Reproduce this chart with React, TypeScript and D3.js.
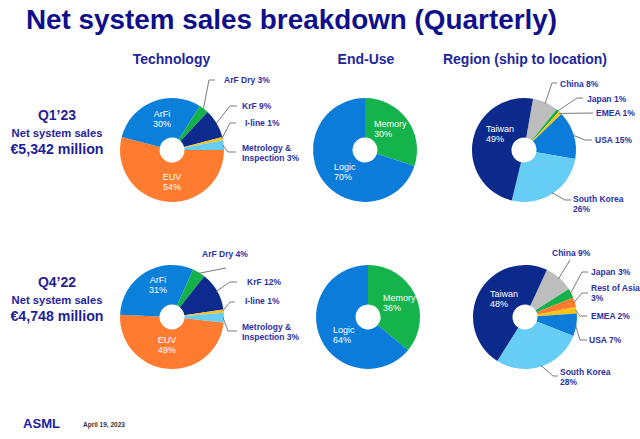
import React from "react";
import * as d3 from "d3";

// ---- data ----
const quarters = ["Q1’23", "Q4’22"];
const salesTotals = ["€5,342 million", "€4,748 million"];

const techCategories = ["EUV", "ArFi", "ArF Dry", "KrF", "I-line", "Metrology & Inspection"];
const techQ123 = [54, 30, 3, 9, 1, 3];
const techQ422 = [49, 31, 4, 12, 1, 3];

const endUseCategories = ["Memory", "Logic"];
const endUseQ123 = [30, 70];
const endUseQ422 = [36, 64];

const regionCategoriesQ123 = ["China", "Japan", "EMEA", "USA", "South Korea", "Taiwan"];
const regionQ123 = [8, 1, 1, 15, 26, 49];
const regionCategoriesQ422 = ["China", "Japan", "Rest of Asia", "EMEA", "USA", "South Korea", "Taiwan"];
const regionQ422 = [9, 3, 3, 2, 7, 28, 48];

// ---- styling ----
const FONT = "'Liberation Sans', Arial, Helvetica, sans-serif";
const NAVY = "#0f0f8c";
const LABEL = "#2b31a6";
const LEADER = "#6b6b6b";

const colorOf: Record<string, string> = {
  EUV: "#ff7b30",
  ArFi: "#0b80da",
  "ArF Dry": "#14b14b",
  KrF: "#0d2a8e",
  "I-line": "#f6c31a",
  "Metrology & Inspection": "#66cdf5",
  Memory: "#14b34b",
  Logic: "#0b7cd9",
  China: "#bdbdbd",
  Japan: "#14b14b",
  "Rest of Asia": "#ff7b30",
  EMEA: "#f6c31a",
  USA: "#0b7cd9",
  "South Korea": "#66cdf5",
  Taiwan: "#0c2a8c",
};

const R = 52;
const HOLE = 12.5;
const deg = Math.PI / 180;

type Inner = { i: number; x: number; y: number; split: number };
type Outer = { i: number; pts: [number, number][]; tx: number; ty: number; split: number };

function lines(cat: string, v: number, split: number) {
  const words = `${cat} ${v}%`.split(" ");
  if (split >= words.length) return [words.join(" ")];
  return [words.slice(0, split).join(" "), words.slice(split).join(" ")];
}

function Donut(props: {
  cx: number;
  cy: number;
  cats: string[];
  values: number[];
  start: number;
  inner: Inner[];
  outer: Outer[];
}) {
  const { cx, cy, cats, values, start, inner, outer } = props;
  const arcs = d3
    .pie<number>()
    .sort(null)
    .value((d) => d)
    .startAngle(start * deg)
    .endAngle(start * deg + 2 * Math.PI)(values);
  const arc = d3.arc<d3.PieArcDatum<number>>().innerRadius(HOLE).outerRadius(R);
  const edge = (i: number) => {
    const a = (arcs[i].startAngle + arcs[i].endAngle) / 2;
    return [cx + (R - 1) * Math.sin(a), cy - (R - 1) * Math.cos(a)] as [number, number];
  };
  const line = d3.line();
  return (
    <g>
      <g transform={`translate(${cx},${cy})`}>
        {arcs.map((a, i) => (
          <path key={i} d={arc(a) || ""} fill={colorOf[cats[i]]} />
        ))}
      </g>
      {outer.map((o, k) => (
        <g key={k}>
          <path d={line([edge(o.i), ...o.pts]) || ""} fill="none" stroke={LEADER} strokeWidth={0.9} />
          {lines(cats[o.i], values[o.i], o.split).map((t, j) => (
            <text key={j} x={o.tx} y={o.ty + j * 9.5} fontSize={8.5} fontWeight="bold" fill={LABEL}>
              {t}
            </text>
          ))}
        </g>
      ))}
      {inner.map((n, k) =>
        lines(cats[n.i], values[n.i], n.split).map((t, j) => (
          <text key={`${k}-${j}`} x={n.x} y={n.y + j * 10} fontSize={9} fill="#ffffff"
            textAnchor={n.split === 1 && cats[n.i].length < 5 ? "middle" : "start"}>
            {t}
          </text>
        ))
      )}
    </g>
  );
}

export default function App() {
  const rowsY = [150, 317];
  return (
    <svg width={640} height={439} style={{ position: "absolute", left: 0, top: 0, background: "#fff" }}
      fontFamily={FONT}>
      <text x={26} y={29} fontSize={27} fontWeight="bold" fill={NAVY} textLength={531}
        lengthAdjust="spacingAndGlyphs">
        Net system sales breakdown (Quarterly)
      </text>
      <g fontSize={14} fontWeight="bold" fill="#1d279d" textAnchor="middle">
        <text x={171.5} y={64}>Technology</text>
        <text x={366} y={64}>End-Use</text>
        <text x={525} y={64}>Region (ship to location)</text>
      </g>

      {quarters.map((q, k) => (
        <g key={q} textAnchor="middle" fontWeight="bold">
          <text x={57} y={rowsY[k] - 30} fontSize={14} fill="#2a1f90">{q}</text>
          <text x={57} y={rowsY[k] - 13} fontSize={11.2} fill="#1f23a2">Net system sales</text>
          <text x={57} y={rowsY[k] + 4} fontSize={14.2} fill="#1d1f98">{salesTotals[k]}</text>
        </g>
      ))}

      {/* Technology */}
      <Donut cx={172} cy={150} cats={techCategories} values={techQ123} start={90}
        inner={[
          { i: 1, x: 162, y: 117, split: 1 },
          { i: 0, x: 172, y: 180, split: 1 },
        ]}
        outer={[
          { i: 2, pts: [[209, 80], [215, 80]], tx: 224, ty: 83, split: 9 },
          { i: 3, pts: [[230, 106], [237, 106]], tx: 242, ty: 109, split: 9 },
          { i: 4, pts: [[230, 123], [236, 123]], tx: 245, ty: 126, split: 9 },
          { i: 5, pts: [[228, 152], [236, 152]], tx: 242, ty: 151, split: 2 },
        ]}
      />
      <Donut cx={172} cy={317} cats={techCategories} values={techQ422} start={96}
        inner={[
          { i: 1, x: 158, y: 283, split: 1 },
          { i: 0, x: 167, y: 343, split: 1 },
        ]}
        outer={[
          { i: 2, pts: [[226, 268]], tx: 202, ty: 257, split: 9 },
          { i: 3, pts: [[230, 282], [237, 282]], tx: 247, ty: 285, split: 9 },
          { i: 4, pts: [[230, 302], [235, 302]], tx: 245, ty: 304, split: 9 },
          { i: 5, pts: [[228, 331], [237, 331]], tx: 242, ty: 330, split: 2 },
        ]}
      />

      {/* End-Use */}
      <Donut cx={365} cy={150} cats={endUseCategories} values={endUseQ123} start={0}
        inner={[
          { i: 0, x: 374, y: 127, split: 1 },
          { i: 1, x: 334, y: 170, split: 1 },
        ]}
        outer={[]}
      />
      <Donut cx={368} cy={317} cats={endUseCategories} values={endUseQ422} start={0}
        inner={[
          { i: 0, x: 383, y: 301, split: 1 },
          { i: 1, x: 333, y: 333, split: 1 },
        ]}
        outer={[]}
      />

      {/* Region */}
      <Donut cx={524} cy={150} cats={regionCategoriesQ123} values={regionQ123} start={10}
        inner={[{ i: 5, x: 486, y: 132, split: 1 }]}
        outer={[
          { i: 0, pts: [[552, 83], [557, 83]], tx: 560, ty: 87, split: 9 },
          { i: 1, pts: [[577, 98], [583, 98]], tx: 587, ty: 102, split: 9 },
          { i: 2, pts: [[593, 113]], tx: 596, ty: 116, split: 9 },
          { i: 3, pts: [[585, 140], [592, 140]], tx: 595, ty: 143, split: 9 },
          { i: 4, pts: [[565, 200], [571, 200]], tx: 573, ty: 202, split: 2 },
        ]}
      />
      <Donut cx={525} cy={317} cats={regionCategoriesQ422} values={regionQ422} start={25}
        inner={[{ i: 6, x: 490, y: 297, split: 1 }]}
        outer={[
          { i: 0, pts: [[570, 260]], tx: 552, ty: 256, split: 9 },
          { i: 1, pts: [[582, 272], [588, 272]], tx: 591, ty: 275, split: 9 },
          { i: 2, pts: [[582, 293], [588, 293]], tx: 591, ty: 291, split: 3 },
          { i: 3, pts: [[580, 316], [587, 316]], tx: 591, ty: 319, split: 9 },
          { i: 4, pts: [[580, 340], [587, 340]], tx: 589, ty: 343, split: 9 },
          { i: 5, pts: [[553, 376], [558, 376]], tx: 560, ty: 375, split: 2 },
        ]}
      />

      <text x={23} y={428} fontSize={12} fontWeight="bold" fill="#1a1ea0" textLength={37}
        lengthAdjust="spacingAndGlyphs">ASML</text>
      <text x={83} y={427} fontSize={6.5} fontWeight="bold" fill="#333">April 19, 2023</text>
    </svg>
  );
}
